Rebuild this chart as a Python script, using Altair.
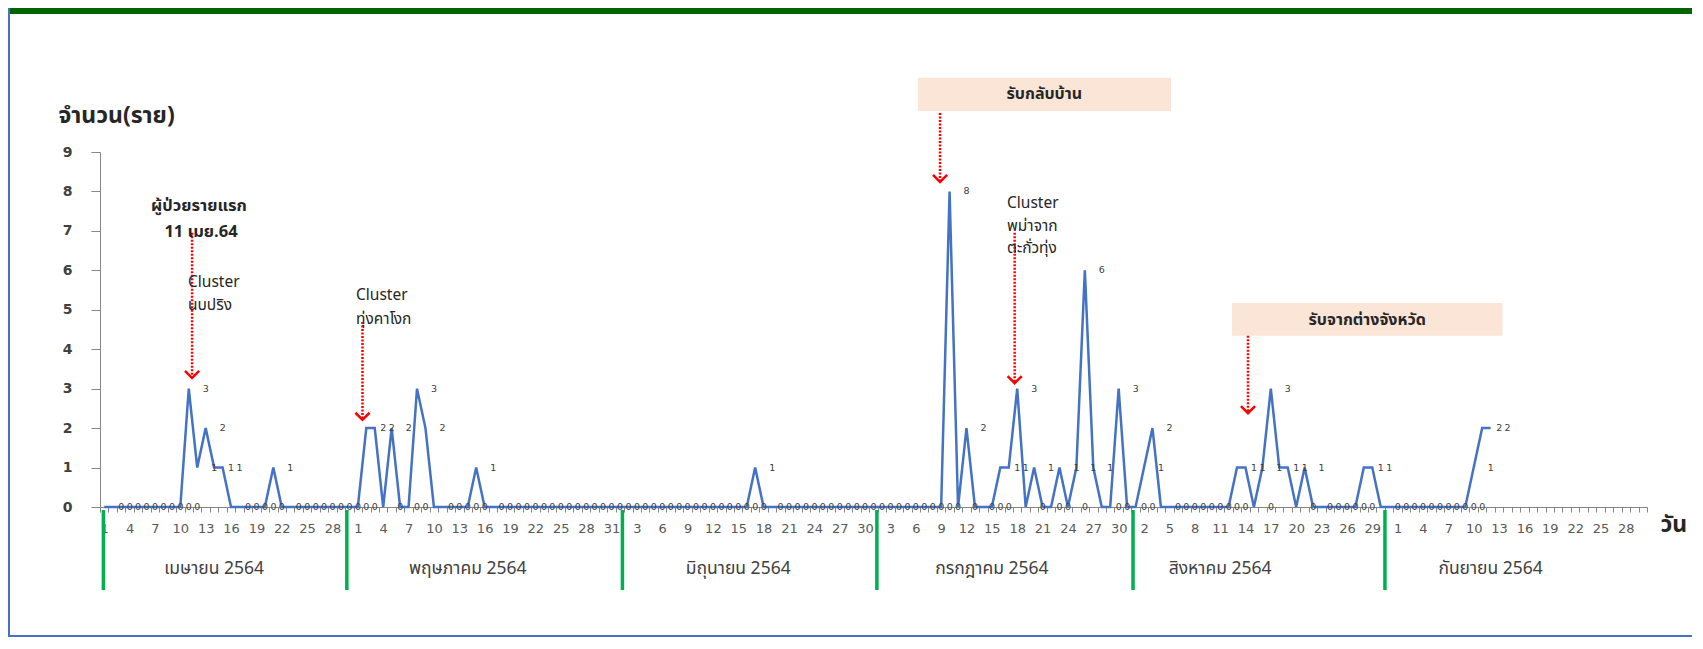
import altair as alt
import pandas as pd

# ---------------- data ----------------
april = [0, 0, 0, 0, 0, 0, 0, 0, 0, 0, 3, 1, 2, 1, 1, 0, 0, 0, 0, 0,
         1, 0, 0, 0, 0, 0, 0, 0, 0, 0]
may = [0, 2, 2, 0, 2, 0, 0, 3, 2, 0, 0, 0, 0, 0, 1, 0, 0, 0, 0, 0,
       0, 0, 0, 0, 0, 0, 0, 0, 0, 0, 0]
june = [0, 0, 0, 0, 0, 0, 0, 0, 0, 0, 0, 0, 0, 0, 0, 0, 1, 0, 0, 0,
        0, 0, 0, 0, 0, 0, 0, 0, 0, 0]
july = [0, 0, 0, 0, 0, 0, 0, 0, 0, 8, 0, 2, 0, 0, 0, 1, 1, 3, 0, 1,
        0, 0, 1, 0, 1, 6, 1, 0, 0, 3, 0]
august = [0, 1, 2, 0, 0, 0, 0, 0, 0, 0, 0, 0, 1, 1, 0, 1, 3, 1, 1, 0,
          1, 0, 0, 0, 0, 0, 0, 1, 1, 0, 0]
september = [0, 0, 0, 0, 0, 0, 0, 0, 0, 1, 2, 2]

month_names = ["เมษายน 2564", "พฤษภาคม 2564", "มิถุนายน 2564",
               "กรกฎาคม 2564", "สิงหาคม 2564", "กันยายน 2564"]
month_lengths = [30, 31, 30, 31, 31, 30]
month_label_day = [14, 14, 15, 15, 11, 12]       # day of month under which the name sits
separator_day = [-0.1, 28.7, 61.3, 91.4, 121.7, 151.5]  # green separator positions (day index)

counts = april + may + june + july + august + september
df = pd.DataFrame({"idx": list(range(len(counts))), "n": counts})

total_days = sum(month_lengths)
starts = [sum(month_lengths[:i]) for i in range(len(month_lengths))]
months_df = pd.DataFrame({
    "name": month_names,
    "x": [s + d - 1 for s, d in zip(starts, month_label_day)],
})
sep_df = pd.DataFrame({"x": separator_day})

notes_left = pd.DataFrame({
    "text": ["Cluster", "นบปริง", "Cluster", "ทุ่งคาโงก", "Cluster", "พม่าจาก", "ตะกั่วทุ่ง"],
    "x": [9.91, 9.91, 29.79, 29.79, 106.8, 106.8, 106.8],
    "y": [5.70, 5.13, 5.37, 4.77, 7.70, 7.12, 6.56],
})
notes_center = pd.DataFrame({
    "text": ["ผู้ป่วยรายแรก", "11 เมย.64"],
    "x": [11.21, 11.45],
    "y": [7.63, 6.98],
})
boxes = pd.DataFrame({
    "text": ["รับกลับบ้าน", "รับจากต่างจังหวัด"],
    "x1": [96.27, 133.4], "x2": [126.2, 165.4],
    "y1": [10.04, 4.34], "y2": [10.88, 5.17],
    "tx": [111.2, 149.4], "ty": [10.46, 4.75],
})
arrows = pd.DataFrame({
    "x": [10.39, 30.55, 98.87, 107.7, 135.3],
    "top": [6.95, 4.69, 9.99, 6.95, 4.34],
    "tip": [3.27, 2.21, 8.24, 3.14, 2.38],
})
one = pd.DataFrame({"k": [0]})

# ---------------- geometry / styles ----------------
W, H = 1547, 355
PAD = {"left": 92, "top": 144, "right": 45, "bottom": 130}
FONT = "Tahoma, 'Noto Sans Thai', 'Leelawadee UI', 'DejaVu Sans', sans-serif"
NUMFONT = "'DejaVu Sans', Verdana, sans-serif"

xscale = alt.Scale(domain=[-0.5, total_days - 0.5], nice=False, zero=False)
yscale = alt.Scale(domain=[0, 9], nice=False, zero=False)

label_expr = ("(datum.value + 0.5) % 3 == 0 && datum.value < " + str(total_days - 1) +
              " ? '' + date(datetime(2021, 3, round(datum.value + 1.5))) : ''")

xaxis = alt.Axis(
    values=[i - 0.5 for i in range(total_days + 1)],
    labelExpr=label_expr,
    labelOffset=4.23, tickSize=5, labelPadding=10, labelFontSize=13,
    labelColor="#595959", labelFont=NUMFONT, domainColor="#868686", tickColor="#868686",
    grid=False, labelOverlap=False, labelFlush=False, labelBound=False,
    title="วัน", titleX=1560, titleY=17, titleAlign="left", titleBaseline="middle",
    titleFontSize=23, titleFontWeight="bold", titleColor="#262626", titleFont=FONT,
)
yaxis = alt.Axis(
    values=list(range(10)), tickSize=9, labelPadding=19, labelFontSize=14,
    labelFontWeight="bold", labelColor="#404040", labelFont=NUMFONT,
    domainColor="#868686", tickColor="#868686", grid=False,
    title="จำนวน(ราย)", titleAngle=0, titleX=-42, titleY=-37, titleAlign="left",
    titleBaseline="middle", titleFontSize=23, titleFontWeight="bold",
    titleColor="#262626", titleFont=FONT,
)


def X(field):
    return alt.X(field, type="quantitative", scale=xscale, axis=xaxis)


def Y(field):
    return alt.Y(field, type="quantitative", scale=yscale, axis=yaxis)


line = alt.Chart(df).mark_line(color="#4472C4", strokeWidth=2.5).encode(x=X("idx"), y=Y("n"))

labels = alt.Chart(df).mark_text(
    dx=17, fontSize=9.5, color="#404040", font=NUMFONT, baseline="middle", align="center"
).encode(x=X("idx"), y=Y("n"), text=alt.Text("n:Q", format="d"))

seps = alt.Chart(sep_df).mark_rule(color="#00B050", strokeWidth=3.5).encode(
    x=X("x"), y=alt.value(H + 3), y2=alt.value(H + 83))

month_text = alt.Chart(months_df).mark_text(
    fontSize=17.5, color="#404040", font=FONT, baseline="middle", align="center"
).encode(x=X("x"), y=alt.value(H + 62), text="name:N")

box_rect = alt.Chart(boxes).mark_rect(color="#FBE5D6").encode(
    x=X("x1"), x2="x2", y=Y("y1"), y2="y2")
box_text = alt.Chart(boxes).mark_text(
    fontSize=16, fontWeight="bold", color="#262626", font=FONT, baseline="middle", align="center"
).encode(x=X("tx"), y=Y("ty"), text="text:N")

arrow_line = alt.Chart(arrows).mark_rule(
    color="#FF0000", strokeWidth=2.5, strokeDash=[2, 1.5]
).encode(x=X("x"), y=Y("top"), y2="tip")
arrow_head = alt.Chart(arrows).mark_point(
    shape="M -1 -1 L 0 0 L 1 -1", filled=False, color="#FF0000", strokeWidth=2.5,
    size=200, opacity=1
).encode(x=X("x"), y=Y("tip"))

left_text = alt.Chart(notes_left).mark_text(
    fontSize=15.5, color="#262626", font=FONT, baseline="middle", align="left"
).encode(x=X("x"), y=Y("y"), text="text:N")
center_text = alt.Chart(notes_center).mark_text(
    fontSize=16.5, fontWeight="bold", color="#262626", font=FONT, baseline="middle", align="center"
).encode(x=X("x"), y=Y("y"), text="text:N")

# frame decorations (page border of the original slide)
top_bar = alt.Chart(one).mark_rect(color="#006400").encode(
    x=alt.value(-PAD["left"]), x2=alt.value(W + PAD["right"]),
    y=alt.value(-PAD["top"]), y2=alt.value(-PAD["top"] + 6))
left_bar = alt.Chart(one).mark_rect(color="#4472C4").encode(
    x=alt.value(-PAD["left"]), x2=alt.value(-PAD["left"] + 2),
    y=alt.value(-PAD["top"]), y2=alt.value(H + PAD["bottom"]))
bottom_bar = alt.Chart(one).mark_rect(color="#4472C4").encode(
    x=alt.value(-PAD["left"]), x2=alt.value(W + PAD["right"]),
    y=alt.value(H + PAD["bottom"] - 2), y2=alt.value(H + PAD["bottom"]))

chart = alt.layer(
    top_bar, left_bar, bottom_bar,
    box_rect, box_text, seps, month_text,
    arrow_line, arrow_head, left_text, center_text,
    line, labels,
).properties(
    width=W, height=H,
    autosize=alt.AutoSizeParams(type="none"),
    padding=PAD,
    background="white",
).configure_view(strokeWidth=0)

chart.save("out.html", embed_options={"renderer": "svg", "actions": False})
